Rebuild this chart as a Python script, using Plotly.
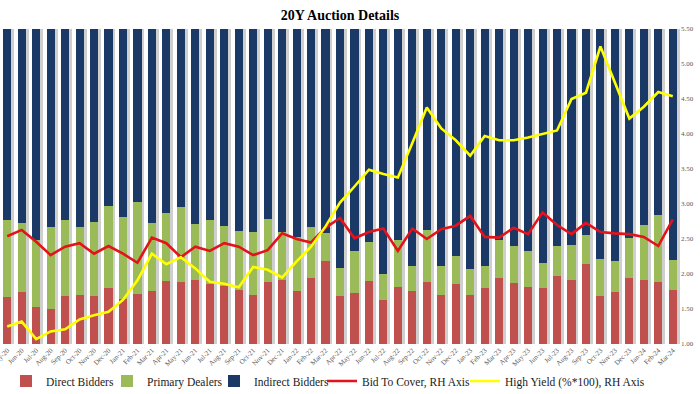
import plotly.graph_objects as go

months = ["May-20", "Jun-20", "Jul-20", "Aug-20", "Sep-20", "Oct-20", "Nov-20", "Dec-20",
          "Jan-21", "Feb-21", "Mar-21", "Apr-21", "May-21", "Jun-21", "Jul-21", "Aug-21",
          "Sep-21", "Oct-21", "Nov-21", "Dec-21", "Jan-22", "Feb-22", "Mar-22", "Apr-22",
          "May-22", "Jun-22", "Jul-22", "Aug-22", "Sep-22", "Oct-22", "Nov-22", "Dec-22",
          "Jan-23", "Feb-23", "Mar-23", "Apr-23", "May-23", "Jun-23", "Jul-23", "Aug-23",
          "Sep-23", "Oct-23", "Nov-23", "Dec-23", "Jan-24", "Feb-24", "Mar-24"]

direct = [14.8, 16.5, 11.8, 11.1, 15.2, 15.6, 15.2, 17.8, 14.4, 16.0, 16.9, 20.0, 19.6, 20.4,
          19.1, 18.4, 17.1, 15.6, 19.6, 20.2, 16.9, 20.9, 26.2, 15.3, 16.2, 20.0, 14.0, 18.2,
          16.7, 19.8, 15.6, 19.1, 15.6, 17.8, 21.1, 19.3, 18.0, 17.8, 21.6, 20.2, 25.3, 15.3,
          16.4, 20.9, 20.4, 19.8, 17.1]
primary = [24.7, 21.9, 21.3, 26.2, 24.1, 21.6, 23.6, 26.0, 26.0, 29.1, 21.6, 21.6, 23.8, 17.6,
           20.4, 19.1, 18.9, 19.8, 20.2, 15.3, 17.1, 16.2, 9.1, 8.7, 13.3, 12.4, 8.2, 14.9,
           8.0, 16.4, 9.1, 8.7, 8.2, 6.9, 12.0, 11.8, 11.6, 7.8, 9.6, 11.3, 9.3, 11.8,
           10.0, 12.7, 17.3, 21.1, 9.6]
indirect = [60.5, 61.6, 66.9, 62.7, 60.7, 62.8, 61.2, 56.2, 59.6, 54.9, 61.5, 58.4, 56.6, 62.0,
            60.5, 62.5, 64.0, 64.6, 60.2, 64.5, 66.0, 62.9, 64.7, 76.0, 70.5, 67.6, 77.8, 66.9,
            75.3, 63.8, 75.3, 72.2, 76.2, 75.3, 66.9, 68.9, 70.4, 74.4, 68.8, 68.5, 65.4, 72.9,
            73.6, 66.4, 62.3, 59.1, 73.3]
bid_to_cover = [2.54, 2.63, 2.46, 2.27, 2.39, 2.44, 2.29, 2.40, 2.29, 2.16, 2.52, 2.44, 2.24, 2.39,
                2.33, 2.44, 2.39, 2.27, 2.34, 2.58, 2.50, 2.45, 2.66, 2.80, 2.51, 2.60, 2.65, 2.33,
                2.65, 2.50, 2.64, 2.69, 2.83, 2.53, 2.52, 2.66, 2.57, 2.88, 2.70, 2.57, 2.73, 2.60,
                2.58, 2.57, 2.53, 2.40, 2.78]
high_yield = [1.25, 1.32, 1.07, 1.18, 1.21, 1.35, 1.41, 1.46, 1.63, 1.91, 2.29, 2.14, 2.24, 2.08,
              1.89, 1.86, 1.81, 2.10, 2.06, 1.95, 2.18, 2.39, 2.68, 3.02, 3.25, 3.49, 3.43, 3.38,
              3.87, 4.38, 4.08, 3.91, 3.69, 3.97, 3.91, 3.91, 3.95, 4.00, 4.05, 4.50, 4.59, 5.25,
              4.74, 4.22, 4.39, 4.60, 4.54]
shadow_total = [d + p + i for d, p, i in zip(direct, primary, indirect)]

SERIF = "Liberation Serif, Times New Roman, serif"
BAR_W = 0.56
W, H = 700, 394

fig = go.Figure()

# subtle grey shadow behind each bar (base axes, drawn below)
fig.add_trace(go.Bar(x=months, y=shadow_total, xaxis="x", yaxis="y",
                     marker=dict(color="#cfcfcf", line=dict(width=0)),
                     width=BAR_W, offset=-BAR_W / 2 + 0.2,
                     showlegend=False, hoverinfo="skip"))

fig.add_trace(go.Bar(name="Direct Bidders", x=months, y=direct, xaxis="x2", yaxis="y2",
                     marker=dict(color="#c0504d", line=dict(width=0)), width=BAR_W,
                     legend="legend"))
fig.add_trace(go.Bar(name="Primary Dealers", x=months, y=primary, xaxis="x2", yaxis="y2",
                     marker=dict(color="#9bbb59", line=dict(width=0)), width=BAR_W,
                     legend="legend2"))
fig.add_trace(go.Bar(name="Indirect Bidders", x=months, y=indirect, xaxis="x2", yaxis="y2",
                     marker=dict(color="#1a3966", line=dict(width=0)), width=BAR_W,
                     legend="legend3"))
fig.add_trace(go.Scatter(name="Bid To Cover, RH Axis", x=months, y=bid_to_cover,
                         xaxis="x2", yaxis="y3", mode="lines",
                         line=dict(color="#e3131b", width=2.6), legend="legend4"))
fig.add_trace(go.Scatter(name="High Yield (%*100), RH Axis", x=months, y=high_yield,
                         xaxis="x2", yaxis="y3", mode="lines",
                         line=dict(color="#ffff00", width=2.6), legend="legend5"))

xr = [-0.5, len(months) - 0.5]
tickfont = dict(family=SERIF, size=7, color="#595959")
legfont = dict(family=SERIF, size=11.5, color="#1a1a1a")
text_starts = [46, 147, 254, 362, 505]


def leg(px):
    return dict(orientation="h", xref="container", yref="container",
                x=(px - 40) / W, xanchor="left", y=1 - 381 / H, yanchor="middle",
                font=legfont, bgcolor="rgba(0,0,0,0)")


fig.update_layout(
    width=W, height=H,
    margin=dict(l=0, r=20, t=29, b=50),
    paper_bgcolor="white", plot_bgcolor="white",
    barmode="stack",
    title=dict(text="<b>20Y Auction Details</b>", x=0.5, xref="paper", xanchor="center",
               y=1 - 15 / H, yref="container", yanchor="middle",
               font=dict(family=SERIF, size=14, color="#000000")),
    xaxis=dict(type="category", range=xr, tickangle=-45, tickfont=tickfont,
               showgrid=False, zeroline=False, showline=False, ticks="",
               automargin=False, categoryorder="array", categoryarray=months),
    xaxis2=dict(type="category", range=xr, overlaying="x", visible=False,
                categoryorder="array", categoryarray=months),
    yaxis=dict(range=[0, 100], visible=False, fixedrange=True),
    yaxis2=dict(range=[0, 100], overlaying="y", visible=False),
    yaxis3=dict(range=[1.0, 5.5], overlaying="y", side="right", anchor="x",
                dtick=0.5, tickformat=".2f", tickfont=tickfont, showgrid=False,
                zeroline=False, showline=False, ticks="", automargin=False),
    legend=leg(text_starts[0]),
    legend2=leg(text_starts[1]),
    legend3=leg(text_starts[2]),
    legend4=leg(text_starts[3]),
    legend5=leg(text_starts[4]),
    showlegend=True,
)

fig.write_html("out.html", config={"displayModeBar": False},
               post_script="document.body.style.margin='0px';")
